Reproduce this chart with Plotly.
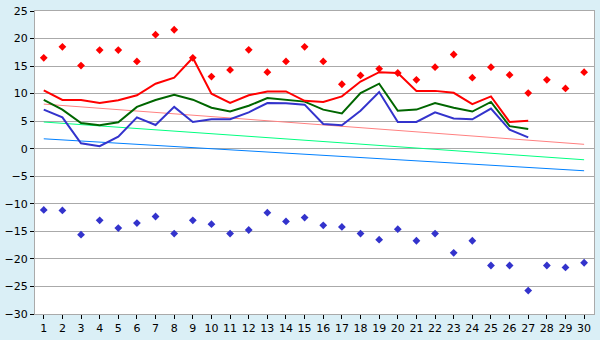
import plotly.graph_objects as go

# Day of month
days = list(range(1, 31))

# Daily temperatures (°C) for days 1-27
t_max = [10.6, 8.85, 8.85, 8.3, 8.8, 9.7, 11.8, 12.9, 16.5, 10.0,
         8.3, 9.7, 10.4, 10.4, 8.7, 8.5, 9.5, 12.2, 13.9, 13.75,
         10.5, 10.5, 10.15, 8.1, 9.5, 4.85, 5.1]
t_mean = [8.85, 7.1, 4.65, 4.25, 4.8, 7.6, 8.85, 9.8, 8.9, 7.45,
          6.75, 7.8, 9.2, 8.85, 8.55, 7.1, 6.4, 10.1, 11.8, 6.9,
          7.1, 8.3, 7.45, 6.75, 8.5, 4.1, 3.6]
t_min = [7.1, 5.7, 1.0, 0.45, 2.2, 5.7, 4.3, 7.6, 4.85, 5.35,
         5.35, 6.6, 8.3, 8.25, 8.0, 4.5, 4.25, 6.9, 10.3, 4.85,
         4.85, 6.6, 5.5, 5.35, 7.3, 3.45, 2.05]

# Record extremes for each day
rec_max = [16.5, 18.5, 15.1, 17.9, 17.9, 15.85, 20.7, 21.6, 16.5, 13.1,
           14.3, 17.95, 13.9, 15.85, 18.5, 15.85, 11.7, 13.3, 14.5, 13.75,
           12.5, 14.8, 17.1, 12.9, 14.8, 13.4, 10.1, 12.5, 10.95, 13.9]
rec_min = [-11.1, -11.2, -15.6, -13.0, -14.4, -13.5, -12.3, -15.4, -13.0, -13.7,
           -15.4, -14.75, -11.6, -13.2, -12.5, -13.9, -14.2, -15.4, -16.5, -14.6,
           -16.7, -15.4, -18.9, -16.7, -21.2, -21.2, -25.75, -21.2, -21.55, -20.7]

# Normal (climatological) trend lines: values at day 1 and day 30
trend_days = [1, 30]
norm_max = [8.1, 0.8]
norm_mean = [4.85, -2.0]
norm_min = [1.8, -4.0]

y_ticks = list(range(-30, 30, 5))

fig = go.Figure()

fig.add_trace(go.Scatter(x=trend_days, y=norm_max, mode="lines",
                         line=dict(color="#ff8080", width=1)))
fig.add_trace(go.Scatter(x=trend_days, y=norm_mean, mode="lines",
                         line=dict(color="#00ff80", width=1)))
fig.add_trace(go.Scatter(x=trend_days, y=norm_min, mode="lines",
                         line=dict(color="#0080ff", width=1)))

n = len(t_max)
fig.add_trace(go.Scatter(x=days[:n], y=t_min, mode="lines",
                         line=dict(color="#3333cc", width=2)))
fig.add_trace(go.Scatter(x=days[:n], y=t_mean, mode="lines",
                         line=dict(color="#006600", width=2)))
fig.add_trace(go.Scatter(x=days[:n], y=t_max, mode="lines",
                         line=dict(color="#ff0000", width=2)))

fig.add_trace(go.Scatter(x=days, y=rec_max, mode="markers",
                         marker=dict(symbol="diamond", size=6, color="#ff0000")))
fig.add_trace(go.Scatter(x=days, y=rec_min, mode="markers",
                         marker=dict(symbol="diamond", size=6, color="#3333cc")))

fig.update_layout(
    width=600, height=340,
    margin=dict(l=26, r=5, t=5, b=20),
    paper_bgcolor="#daeff6",
    plot_bgcolor="#ffffff",
    showlegend=False,
    font=dict(family="DejaVu Sans", size=11, color="#000000"),
)
fig.update_xaxes(
    range=[0.53, 30.53], tickmode="array", tickvals=days,
    ticks="outside", ticklen=4, tickcolor="#000000",
    showgrid=False, zeroline=False,
    showline=True, linecolor="#aaaaaa", linewidth=1, mirror=True,
)
fig.update_yaxes(
    range=[-30, 25], tickmode="array", tickvals=y_ticks,
    ticks="outside", ticklen=4, tickcolor="#000000",
    ticklabeloverflow="allow",
    showgrid=True, gridcolor="#aaaaaa", gridwidth=1,
    zeroline=False,
    showline=True, linecolor="#aaaaaa", linewidth=1, mirror=True,
)

fig.write_html("out.html", config={"displayModeBar": False})
